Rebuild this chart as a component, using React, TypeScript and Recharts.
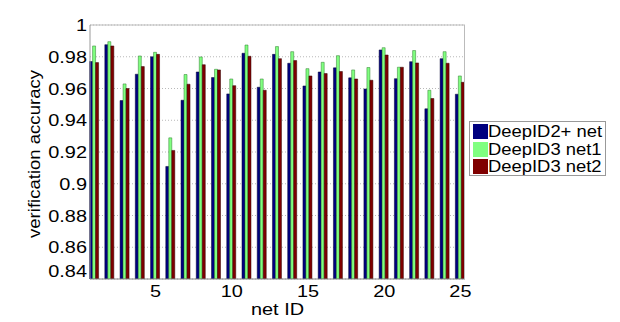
import React from 'react';
import { BarChart, Bar, XAxis, YAxis, CartesianGrid, ReferenceLine } from 'recharts';

const netIds = [1,2,3,4,5,6,7,8,9,10,11,12,13,14,15,16,17,18,19,20,21,22,23,24,25];
const deepId2Plus = [0.977,0.9876,0.9524,0.969,0.980,0.9109,0.9526,0.9704,0.9669,0.9566,0.9822,0.9608,0.9815,0.9759,0.9616,0.9704,0.973,0.9667,0.9597,0.9843,0.9662,0.9769,0.9472,0.9788,0.9564];
const deepId3Net1 = [0.9868,0.9895,0.9629,0.9805,0.9828,0.9289,0.9688,0.9799,0.9721,0.966,0.9874,0.966,0.9864,0.9832,0.9725,0.9765,0.9807,0.9717,0.9732,0.9857,0.9734,0.9839,0.9589,0.9832,0.9679];
const deepId3Net2 = [0.9763,0.9868,0.960,0.9738,0.9815,0.921,0.9627,0.975,0.9717,0.9618,0.9803,0.9589,0.9788,0.9776,0.9679,0.9694,0.9707,0.966,0.9652,0.9811,0.9734,0.9761,0.9537,0.9759,0.9639];
const yTicks = [0.84,0.86,0.88,0.9,0.92,0.94,0.96,0.98,1];
const xTickIds = [5,10,15,20,25];
const seriesNames = ['DeepID2+ net','DeepID3 net1','DeepID3 net2'];
const seriesColors = ['#00007F','#80FF80','#7F0000'];
const xAxisTitle = 'net ID';
const yAxisTitle = 'verification accuracy';

const data = netIds.map((id, i) => ({
  id,
  a: deepId2Plus[i],
  b: deepId3Net1[i],
  c: deepId3Net2[i],
}));

const font = '"Liberation Sans", Arial, sans-serif';
const SX = 1.17;

const XTick = (props: any) => {
  const { x, y, payload } = props;
  return (
    <text x={0} y={0} transform={`translate(${x},${y + 18}) scale(${SX},1)`} textAnchor="middle" fontSize={17} fontFamily={font} fill="#000">
      {String(payload.value)}
    </text>
  );
};

const YTick = (props: any) => {
  const { x, y, payload } = props;
  const v = payload.value as number;
  const shift = v === yTicks[0] ? -8 : 0;
  return (
    <text x={0} y={0} transform={`translate(${x},${y + 6 + shift}) scale(${SX},1)`} textAnchor="end" fontSize={17} fontFamily={font} fill="#000">
      {String(Number(v.toFixed(2)))}
    </text>
  );
};

const XLabel = (props: any) => {
  const vb = props.viewBox || {};
  const cx = vb.x + vb.width / 2;
  return (
    <text x={0} y={0} transform={`translate(${cx},315) scale(${SX},1)`} textAnchor="middle" fontSize={17} fontFamily={font} fill="#000">
      {xAxisTitle}
    </text>
  );
};

const YLabel = (props: any) => {
  const vb = props.viewBox || {};
  const cy = vb.y + vb.height / 2 + 2;
  return (
    <text x={0} y={0} transform={`translate(40,${cy}) rotate(-90)`} textAnchor="middle" fontSize={17} fontFamily={font} fill="#000" textLength={168} lengthAdjust="spacingAndGlyphs">
      {yAxisTitle}
    </text>
  );
};

const LegendBox = () => (
  <div style={{
    position: 'absolute', left: 469, top: 121, width: 137, height: 55,
    border: '1px solid #999', background: '#fff', boxSizing: 'border-box',
    padding: '1px 0 0 3px', fontFamily: font, fontSize: 16, color: '#000',
  }}>
    {seriesNames.map((n, i) => (
      <div key={n} style={{ display: 'flex', alignItems: 'center', height: 17.5, whiteSpace: 'nowrap' }}>
        <span style={{ display: 'inline-block', width: 15, height: 15, background: seriesColors[i], flex: '0 0 auto' }} />
        <span style={{ display: 'inline-block', transform: `scaleX(${SX - 0.02})`, transformOrigin: 'left center', lineHeight: '17px' }}>{n}</span>
      </div>
    ))}
  </div>
);

export default function App() {
  return (
    <div style={{ position: 'absolute', left: 0, top: 0, width: 620, height: 322, background: '#fff' }}>
      <BarChart
        width={620}
        height={322}
        data={data}
        margin={{ top: 25, right: 155, bottom: 13, left: 40 }}
        barCategoryGap="17%"
        barGap={0}
      >
        <CartesianGrid vertical={false} stroke="#b8b8b8" strokeDasharray="1 2" />
        <XAxis
          dataKey="id"
          ticks={xTickIds}
          interval={0}
          height={30}
          padding={{ left: -3, right: -3 }}
          tickLine={false}
          tickSize={0}
          tickMargin={0}
          axisLine={{ stroke: '#888' }}
          tick={<XTick />}
          label={<XLabel />}
        />
        <YAxis
          domain={[0.84, 1]}
          ticks={yTicks}
          width={50}
          tickLine={false}
          tickSize={0}
          tickMargin={3}
          axisLine={{ stroke: '#999' }}
          allowDataOverflow
          tick={<YTick />}
          label={<YLabel />}
        />
        <ReferenceLine y={1} stroke="#bbb" strokeWidth={1} ifOverflow="visible" />
        <Bar dataKey="a" name={seriesNames[0]} fill={seriesColors[0]} stroke="#000030" strokeWidth={0.5} isAnimationActive={false} />
        <Bar dataKey="b" name={seriesNames[1]} fill={seriesColors[1]} stroke="#2a7a2a" strokeWidth={0.5} isAnimationActive={false} />
        <Bar dataKey="c" name={seriesNames[2]} fill={seriesColors[2]} stroke="#300000" strokeWidth={0.5} isAnimationActive={false} />
      </BarChart>
      <div style={{ position: 'absolute', left: 464, top: 25, width: 1, height: 254, background: '#bbb', pointerEvents: 'none' }} />
      <LegendBox />
    </div>
  );
}
